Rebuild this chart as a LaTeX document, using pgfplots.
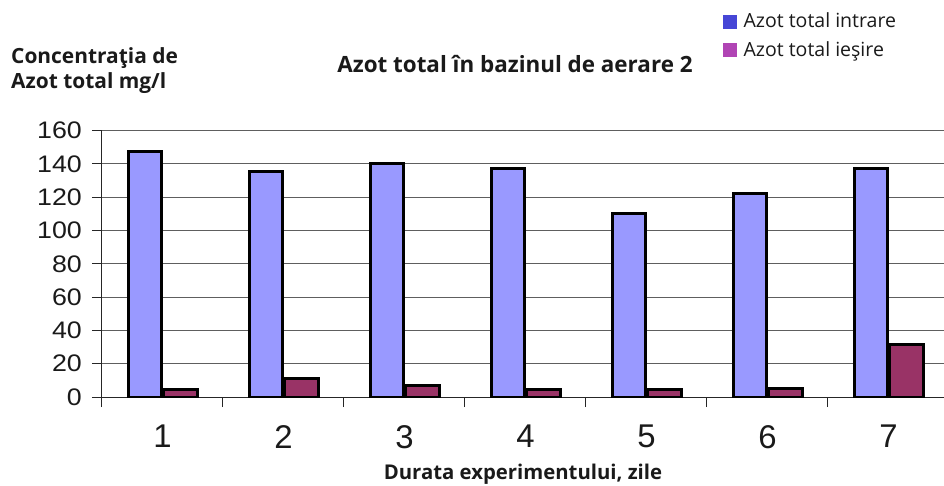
\documentclass[border=0pt]{standalone}
\usepackage{pgfplots}
\pgfplotsset{compat=1.18}
\usepackage{fontspec}
\setmainfont{Open Sans}
\newfontfamily\tickfont{Liberation Sans}
\newfontfamily\ytickfont[FakeStretch=1.12]{Liberation Sans}
\definecolor{barblue}{HTML}{9999FF}
\definecolor{barred}{HTML}{993366}
\definecolor{legblue}{HTML}{4646D6}
\definecolor{legmag}{HTML}{B044B4}
\definecolor{gridc}{HTML}{5E5E5E}
\definecolor{txt}{HTML}{1A1A1A}
\begin{document}
\begin{tikzpicture}
\path[use as bounding box] (-102bp,-89bp) rectangle (842bp,397bp);
\begin{axis}[
  at={(0,0)}, anchor=south west,
  scale only axis, width=842bp, height=266.3bp,
  xmin=-0.5, xmax=6.459, ymin=0, ymax=160,
  axis x line*=bottom, axis y line*=left,
  axis line style={-, line width=1bp, color=black!85},
  ytick={0,20,...,160},
  ymajorgrids, grid style={gridc, line width=1bp},
  xtick={-0.5,0.5,...,5.5},
  xticklabels={},
  extra x ticks={0,1,...,6},
  extra x tick labels={1,2,3,4,5,6,7},
  extra x tick style={major tick length=0pt,
     xticklabel style={font=\tickfont\fontsize{33}{33}\selectfont, text=txt, inner sep=0pt, yshift=-28bp}},
  tick align=outside, major tick length=10bp,
  tick style={black!85, line width=1bp},
  /pgf/number format/assume math mode=true,
  yticklabel style={font=\ytickfont\fontsize{24}{24}\selectfont, text=txt, inner sep=0pt, xshift=-10bp},
  title={Azot total în bazinul de aerare 2},
  title style={at={(rel axis cs:0.4905,1.1952)}, anchor=base, inner sep=0pt,
     font=\bfseries\fontsize{22.5}{26}\selectfont, text=txt},
  xlabel={Durata experimentului, zile},
  xlabel style={at={(rel axis cs:0.5,-0.3090)}, anchor=base, inner sep=0pt,
     font=\bfseries\fontsize{20.4}{22}\selectfont, text=txt},
  ylabel={Concentraţia de\\Azot total mg/l},
  ylabel style={at={(rel axis cs:-0.1081,1.1566)}, anchor=base west, rotate=-90, inner sep=0pt,
     align=left, font=\bfseries\fontsize{21}{26}\selectfont, text=txt},
  legend style={at={(rel axis cs:0.7375,1.4462)}, anchor=north west, draw=none, fill=none,
     inner sep=0pt, font=\fontsize{19.6}{22}\selectfont, text=txt, row sep=10bp, column sep=6bp,
     nodes={inner sep=1bp}},
  legend cell align=left,
]
\addlegendimage{legend image code/.code={\fill[legblue] (0bp,-6.5bp) rectangle (13bp,6.5bp);}}
\addlegendentry{Azot total intrare}
\addlegendimage{legend image code/.code={\fill[legmag] (0bp,-6.5bp) rectangle (13bp,6.5bp);}}
\addlegendentry{Azot total ieşire}
\addplot[ybar, bar width=0.277, bar shift=-0.145, fill=barblue, draw=black, line width=3bp, forget plot]
  coordinates {(0,147.7) (1,135.3) (2,140.1) (3,137.3) (4,110.0) (5,122.0) (6,137.3)};
\addplot[ybar, bar width=0.277, bar shift=0.148, fill=barred, draw=black, line width=3bp, forget plot]
  coordinates {(0,4.3) (1,10.9) (2,7.1) (3,4.3) (4,4.3) (5,4.9) (6,31.3)};
\end{axis}
\end{tikzpicture}
\end{document}
